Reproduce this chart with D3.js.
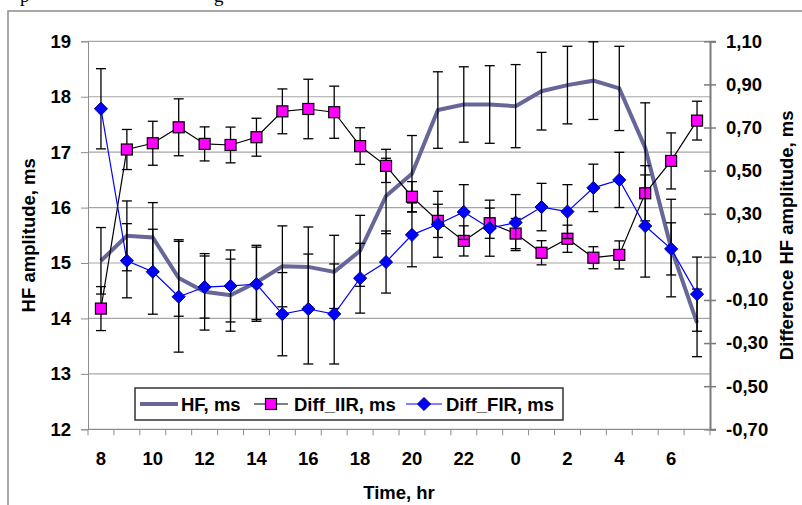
<!DOCTYPE html>
<html>
<head>
<meta charset="utf-8">
<script src="https://d3js.org/d3.v7.min.js"></script>
<style>
    body { margin: 0; background: #fff; }
    text { font-family: Arial, "Liberation Sans", sans-serif; font-weight: bold; fill: #000; }
</style>
</head>
<body>
<script>
// hours of the day along the x axis (8 in the morning to 7 next morning)
var hours = [8, 9, 10, 11, 12, 13, 14, 15, 16, 17, 18, 19, 20, 21, 22, 23, 0, 1, 2, 3, 4, 5, 6, 7];
var hourLabels = [8, 10, 12, 14, 16, 18, 20, 22, 0, 2, 4, 6];

// HF amplitude, ms (left axis) and its error
var hf = [15.04, 15.49, 15.46, 14.73, 14.48, 14.42, 14.65, 14.94, 14.93, 14.84, 15.22, 16.21,
    16.61, 17.76, 17.86, 17.86, 17.83, 18.10, 18.21, 18.29, 18.15, 17.08, 15.27, 13.92];
var hfErr = [0.60, 0.63, 0.63, 0.69, 0.69, 0.65, 0.67, 0.73, 0.72, 0.66, 0.64, 0.68,
    0.69, 0.69, 0.68, 0.70, 0.75, 0.70, 0.70, 0.70, 0.76, 0.81, 0.88, 0.61];

// Diff_IIR, ms (right axis)
var diffIIR = [-0.140, 0.598, 0.627, 0.701, 0.624, 0.619, 0.655, 0.775, 0.786, 0.771, 0.614, 0.522,
    0.379, 0.267, 0.174, 0.256, 0.208, 0.119, 0.184, 0.096, 0.109, 0.395, 0.545, 0.732];
var diffIIRErr = [0.102, 0.093, 0.102, 0.132, 0.079, 0.083, 0.088, 0.104, 0.138, 0.121, 0.085, 0.077,
    0.070, 0.077, 0.070, 0.070, 0.070, 0.056, 0.063, 0.051, 0.065, 0.128, 0.130, 0.090];

// Diff_FIR, ms (right axis)
var diffFIR = [0.787, 0.082, 0.031, -0.085, -0.040, -0.035, -0.027, -0.166, -0.142, -0.165, 0.001, 0.076,
    0.202, 0.251, 0.308, 0.233, 0.259, 0.331, 0.310, 0.420, 0.457, 0.243, 0.137, -0.073];
var diffFIRErr = [0.186, 0.172, 0.197, 0.257, 0.144, 0.167, 0.172, 0.193, 0.255, 0.232, 0.162, 0.144,
    0.148, 0.153, 0.127, 0.130, 0.130, 0.110, 0.125, 0.110, 0.128, 0.237, 0.121, 0.172];

// axis ticks
var leftTicks = [12, 13, 14, 15, 16, 17, 18, 19];
var rightTicks = [-0.7, -0.5, -0.3, -0.1, 0.1, 0.3, 0.5, 0.7, 0.9, 1.1];

window.onload = function() {
    var fs = "18.5px";

    var svg = d3.select("body")
        .append("svg")
        .attr("width", 802)
        .attr("height", 505);

    // clipped line of text from the page above the chart
    svg.append("text")
        .attr("x", 20)
        .attr("y", 2)
        .style("font-family", "'Liberation Serif', serif")
        .style("font-weight", "normal")
        .style("font-size", "19px")
        .text("p");
    svg.append("text")
        .attr("x", 214)
        .attr("y", 2)
        .style("font-family", "'Liberation Serif', serif")
        .style("font-weight", "normal")
        .style("font-size", "19px")
        .text("g");

    // chart frame (cut off on the right and bottom)
    svg.append("path")
        .attr("d", "M8,505V11H802")
        .style("fill", "none")
        .style("stroke", "#8c8c8c")
        .style("stroke-width", 1.5);

    var left = 88, right = 710, top = 41.3, bottom = 429.3;

    // scales
    var x = d3.scaleBand()
        .domain(hours)
        .range([left, right]);
    var cx = function(i) { return x(hours[i]) + x.bandwidth() / 2; };

    var yL = d3.scaleLinear()
        .domain([12, 19])
        .range([bottom, top]);

    var yR = d3.scaleLinear()
        .domain([-0.7, 1.1])
        .range([bottom, top]);

    // horizontal gridlines
    svg.append("g")
        .selectAll("line")
        .data(leftTicks.slice(1))
        .enter()
        .append("line")
        .attr("x1", left)
        .attr("x2", right)
        .attr("y1", function(d) { return yL(d); })
        .attr("y2", function(d) { return yL(d); })
        .style("stroke", "#a6a6a6")
        .style("stroke-width", 1.2);

    // left axis
    var leftAxis = svg.append("g")
        .attr("transform", "translate(" + left + ",0)")
        .call(d3.axisLeft(yL).tickValues(leftTicks).tickSize(7).tickPadding(10).tickFormat(d3.format("d")));
    leftAxis.select(".domain").style("stroke", "#8c8c8c");
    leftAxis.selectAll(".tick line").style("stroke", "#8c8c8c");
    leftAxis.selectAll("text")
        .style("font-size", fs)
        .style("font-family", "Arial, 'Liberation Sans', sans-serif");

    // right axis, ticks cross the line
    var fmt = function(d) { return d3.format(".2f")(d).replace(".", ",").replace("−", "-"); };
    var rightAxis = svg.append("g")
        .attr("transform", "translate(" + right + ",0)")
        .call(d3.axisRight(yR).tickValues(rightTicks).tickSize(6).tickPadding(10).tickFormat(fmt));
    rightAxis.select(".domain").style("stroke", "#7a7a7a").style("stroke-width", 2);
    rightAxis.selectAll(".tick line").attr("x1", -6).style("stroke", "#7a7a7a").style("stroke-width", 1.5);
    rightAxis.selectAll("text")
        .style("font-size", fs)
        .style("font-family", "Arial, 'Liberation Sans', sans-serif");

    // bottom axis: ticks between categories, labels every 2 hours
    var xAxis = svg.append("g");
    xAxis.append("line")
        .attr("x1", left).attr("x2", right)
        .attr("y1", bottom).attr("y2", bottom)
        .style("stroke", "#8c8c8c").style("stroke-width", 1.2);
    xAxis.selectAll(".xtick")
        .data(hours.concat(["end"]))
        .enter()
        .append("line")
        .attr("class", "xtick")
        .attr("x1", function(d) { return d === "end" ? right : x(d); })
        .attr("x2", function(d) { return d === "end" ? right : x(d); })
        .attr("y1", bottom)
        .attr("y2", bottom + 6)
        .style("stroke", "#8c8c8c");
    xAxis.selectAll(".xlabel")
        .data(hourLabels)
        .enter()
        .append("text")
        .attr("class", "xlabel")
        .attr("text-anchor", "middle")
        .attr("x", function(d) { return x(d) + x.bandwidth() / 2; })
        .attr("y", 465)
        .style("font-size", fs)
        .text(function(d) { return d; });

    // axis titles
    svg.append("text")
        .attr("text-anchor", "middle")
        .attr("transform", "translate(35," + (top + bottom) / 2 + ") rotate(-90)")
        .style("font-size", fs)
        .text("HF amplitude, ms");
    svg.append("text")
        .attr("text-anchor", "middle")
        .attr("transform", "translate(793," + (top + bottom) / 2 + ") rotate(-90)")
        .style("font-size", fs)
        .text("Difference HF amplitude, ms");
    svg.append("text")
        .attr("text-anchor", "middle")
        .attr("x", (left + right) / 2)
        .attr("y", 499)
        .style("font-size", fs)
        .text("Time, hr");

    // error bars with caps
    function errorBars(values, errs, y) {
        var g = svg.append("g");
        values.forEach(function(v, i) {
            var px = cx(i), y1 = y(v + errs[i]), y2 = y(v - errs[i]);
            g.append("line").attr("x1", px).attr("x2", px).attr("y1", y1).attr("y2", y2);
            g.append("line").attr("x1", px - 5).attr("x2", px + 5).attr("y1", y1).attr("y2", y1);
            g.append("line").attr("x1", px - 5).attr("x2", px + 5).attr("y1", y2).attr("y2", y2);
        });
        g.selectAll("line").style("stroke", "#000").style("stroke-width", 1.3);
    }

    // HF series
    var hfLine = d3.line()
        .x(function(d, i) { return cx(i); })
        .y(function(d) { return yL(d); });
    svg.append("path")
        .datum(hf)
        .attr("d", hfLine)
        .style("fill", "none")
        .style("stroke", "#666699")
        .style("stroke-width", 4);
    errorBars(hf, hfErr, yL);

    // Diff_IIR series
    var rLine = d3.line()
        .x(function(d, i) { return cx(i); })
        .y(function(d) { return yR(d); });
    svg.append("path")
        .datum(diffIIR)
        .attr("d", rLine)
        .style("fill", "none")
        .style("stroke", "#000")
        .style("stroke-width", 1.2);
    errorBars(diffIIR, diffIIRErr, yR);
    svg.append("g")
        .selectAll("rect")
        .data(diffIIR)
        .enter()
        .append("rect")
        .attr("x", function(d, i) { return cx(i) - 5.5; })
        .attr("y", function(d) { return yR(d) - 5.5; })
        .attr("width", 11)
        .attr("height", 11)
        .style("fill", "#ff00ff")
        .style("stroke", "#000")
        .style("stroke-width", 1.2);

    // Diff_FIR series
    svg.append("path")
        .datum(diffFIR)
        .attr("d", rLine)
        .style("fill", "none")
        .style("stroke", "#0000ff")
        .style("stroke-width", 1.2);
    errorBars(diffFIR, diffFIRErr, yR);
    var diamond = d3.symbol().type(d3.symbolDiamond2).size(110);
    svg.append("g")
        .selectAll("path")
        .data(diffFIR)
        .enter()
        .append("path")
        .attr("d", diamond)
        .attr("transform", function(d, i) { return "translate(" + cx(i) + "," + yR(d) + ")"; })
        .style("fill", "#0000ff")
        .style("stroke", "#000080")
        .style("stroke-width", 1);

    // legend
    var legend = svg.append("g");
    legend.append("rect")
        .attr("x", 135).attr("y", 388)
        .attr("width", 428).attr("height", 32)
        .style("fill", "#fff")
        .style("stroke", "#333")
        .style("stroke-width", 1.5);
    var ly = 404;
    legend.append("line")
        .attr("x1", 140).attr("x2", 178).attr("y1", ly).attr("y2", ly)
        .style("stroke", "#666699").style("stroke-width", 4);
    legend.append("text").attr("x", 181).attr("y", ly + 6.5).style("font-size", fs).text("HF, ms");

    legend.append("line")
        .attr("x1", 254).attr("x2", 288).attr("y1", ly).attr("y2", ly)
        .style("stroke", "#000").style("stroke-width", 1.2);
    legend.append("rect")
        .attr("x", 271 - 5.5).attr("y", ly - 5.5).attr("width", 11).attr("height", 11)
        .style("fill", "#ff00ff").style("stroke", "#000").style("stroke-width", 1.2);
    legend.append("text").attr("x", 294).attr("y", ly + 6.5).style("font-size", fs).text("Diff_IIR, ms");

    legend.append("line")
        .attr("x1", 406).attr("x2", 442).attr("y1", ly).attr("y2", ly)
        .style("stroke", "#0000ff").style("stroke-width", 1.2);
    legend.append("path")
        .attr("d", diamond)
        .attr("transform", "translate(424," + ly + ")")
        .style("fill", "#0000ff").style("stroke", "#000080");
    legend.append("text").attr("x", 446).attr("y", ly + 6.5).style("font-size", fs).text("Diff_FIR, ms");
};
</script>
</body>
</html>
